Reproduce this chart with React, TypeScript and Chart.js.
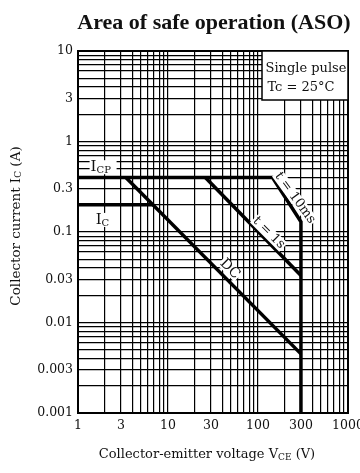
import React, { useEffect, useRef } from "react";
import { Chart, registerables } from "chart.js";

Chart.register(...registerables);

// ---- data ----
const xTickLabels = [1, 3, 10, 30, 100, 300, 1000];
const yTickLabels = [0.001, 0.003, 0.01, 0.03, 0.1, 0.3, 1, 3, 10];
const gridMantissas = [1, 2, 3, 4, 5, 6, 7, 8, 9];

// ICP limit + t = 10ms line + 300 V voltage limit
const pulseLimitV = [1, 145, 300, 300];
const pulseLimitI = [0.4, 0.4, 0.13, 0.001];
// IC (continuous) limit
const icLimitV = [1, 6.8];
const icLimitI = [0.2, 0.2];
// DC
const dcV = [3.4, 300];
const dcI = [0.4, 0.0045];
// t = 1 s
const t1sV = [26, 300];
const t1sI = [0.4, 0.033];

function logGrid(min: number, max: number): number[] {
  const out: number[] = [];
  const e0 = Math.round(Math.log10(min));
  const e1 = Math.round(Math.log10(max));
  for (let e = e0; e < e1; e++) {
    for (const m of gridMantissas) out.push(parseFloat((m * Math.pow(10, e)).toPrecision(6)));
  }
  out.push(max);
  return out;
}

const xGrid = logGrid(1, 1000);
const yGrid = logGrid(0.001, 10);

function pts(xs: number[], ys: number[]) {
  return xs.map((x, i) => ({ x, y: ys[i] }));
}

function labelFor(list: number[], v: number): string {
  const hit = list.find((t) => Math.abs(t - v) / t < 1e-6);
  return hit === undefined ? "" : String(hit);
}

const SERIF = "'DejaVu Serif', 'Liberation Serif', serif";

type Seg = { t: string; sub?: boolean };

function drawRich(
  ctx: CanvasRenderingContext2D,
  segs: Seg[],
  x: number,
  y: number,
  size: number,
  align: "left" | "center",
  family: string
) {
  const subSize = Math.round(size * 0.68);
  let total = 0;
  const widths = segs.map((s) => {
    ctx.font = `${s.sub ? subSize : size}px ${family}`;
    const w = ctx.measureText(s.t).width;
    total += w;
    return w;
  });
  let cx = align === "center" ? x - total / 2 : x;
  ctx.textAlign = "left";
  ctx.textBaseline = "middle";
  segs.forEach((s, i) => {
    ctx.font = `${s.sub ? subSize : size}px ${family}`;
    ctx.fillText(s.t, cx, s.sub ? y + size * 0.22 : y);
    cx += widths[i];
  });
  return total;
}

const annotations = {
  id: "asoAnnotations",
  afterDatasetsDraw(chart: any) {
    const ctx: CanvasRenderingContext2D = chart.ctx;
    const { left, right, top, bottom } = chart.chartArea;
    const xs = chart.scales.x;
    const ys = chart.scales.y;
    ctx.save();

    // frame
    ctx.strokeStyle = "#000";
    ctx.lineWidth = 2;
    ctx.strokeRect(left, top, right - left, bottom - top);

    // inset box
    const bx = 262;
    const by = top;
    ctx.fillStyle = "#fff";
    ctx.fillRect(bx, by, right - bx, 100 - by);
    ctx.lineWidth = 1.5;
    ctx.strokeRect(bx, by, right - bx, 100 - by);
    ctx.fillStyle = "#111";
    ctx.font = `13px ${SERIF}`;
    ctx.textAlign = "center";
    ctx.textBaseline = "middle";
    ctx.fillText("Single pulse", (bx + right) / 2 + 1, 69);
    ctx.fillText("Tc = 25°C", (bx + right) / 2 - 4, 88);

    // ICP / IC labels (white backing)
    const icpX = xs.getPixelForValue(1.38);
    const icpY = ys.getPixelForValue(0.52);
    ctx.fillStyle = "#fff";
    ctx.fillRect(icpX - 1, icpY - 7, 27, 14);
    ctx.fillStyle = "#111";
    drawRich(ctx, [{ t: "I" }, { t: "CP", sub: true }], icpX, icpY, 15, "left", SERIF);

    const icX = xs.getPixelForValue(1.57);
    const icY = ys.getPixelForValue(0.136);
    ctx.fillStyle = "#fff";
    ctx.fillRect(icX - 1, icY - 7, 15, 14);
    ctx.fillStyle = "#111";
    drawRich(ctx, [{ t: "I" }, { t: "C", sub: true }], icX, icY, 15, "left", SERIF);

    // rotated curve labels
    const rotLabel = (text: string, v: number, i: number, deg: number, size: number) => {
      const px = xs.getPixelForValue(v);
      const py = ys.getPixelForValue(i);
      ctx.save();
      ctx.translate(px, py);
      ctx.rotate((deg * Math.PI) / 180);
      ctx.font = `${size}px ${SERIF}`;
      const w = ctx.measureText(text).width;
      ctx.fillStyle = "#fff";
      ctx.fillRect(-w / 2 - 1, -6, w + 2, 12);
      ctx.fillStyle = "#111";
      ctx.textAlign = "center";
      ctx.textBaseline = "middle";
      ctx.fillText(text, 0, 0);
      ctx.restore();
    };
    rotLabel("DC", 48.7, 0.039, 45, 14);
    rotLabel("t = 1s", 132, 0.098, 45, 13);
    rotLabel("t = 10ms", 258, 0.238, 54, 13);

    // title
    ctx.fillStyle = "#111";
    ctx.font = `bold 22px 'Liberation Serif', serif`;
    ctx.textAlign = "center";
    ctx.textBaseline = "alphabetic";
    ctx.fillText("Area of safe operation (ASO)", 214, 29);

    // x axis title
    drawRich(
      ctx,
      [{ t: "Collector-emitter voltage V" }, { t: "CE", sub: true }, { t: " (V)" }],
      207,
      455,
      13,
      "center",
      SERIF
    );

    // y axis title
    ctx.save();
    ctx.translate(16, 226);
    ctx.rotate(-Math.PI / 2);
    drawRich(
      ctx,
      [{ t: "Collector current I" }, { t: "C", sub: true }, { t: " (A)" }],
      0,
      0,
      13.5,
      "center",
      SERIF
    );
    ctx.restore();

    ctx.restore();
  },
};

export default function App() {
  const ref = useRef<HTMLCanvasElement | null>(null);

  useEffect(() => {
    if (!ref.current) return;
    const line = (data: { x: number; y: number }[]) => ({
      data,
      showLine: true,
      borderColor: "#000",
      borderWidth: 3.5,
      pointRadius: 0,
      fill: false,
      tension: 0,
    });
    const chart = new Chart(ref.current, {
      type: "scatter",
      data: {
        datasets: [
          line(pts(pulseLimitV, pulseLimitI)),
          line(pts(icLimitV, icLimitI)),
          line(pts(dcV, dcI)),
          line(pts(t1sV, t1sI)),
        ],
      },
      options: {
        responsive: false,
        animation: false,
        devicePixelRatio: 1,
        layout: { padding: { left: 0, right: 12, top: 51, bottom: 0 } },
        plugins: { legend: { display: false }, tooltip: { enabled: false }, title: { display: false } },
        scales: {
          x: {
            type: "logarithmic",
            min: 1,
            max: 1000,
            afterBuildTicks: (s: any) => {
              s.ticks = xGrid.map((v) => ({ value: v }));
            },
            afterFit: (s: any) => {
              s.height = 60;
              s.paddingLeft = 0;
              s.paddingRight = 0;
            },
            grid: { color: "#000", lineWidth: 1.2, drawTicks: false },
            border: { display: false },
            ticks: {
              autoSkip: false,
              maxRotation: 0,
              padding: 5,
              color: "#111",
              font: { family: SERIF, size: 12.5 },
              callback: (v: any) => labelFor(xTickLabels, Number(v)),
            },
          },
          y: {
            type: "logarithmic",
            min: 0.001,
            max: 10,
            afterBuildTicks: (s: any) => {
              s.ticks = yGrid.map((v) => ({ value: v }));
            },
            afterFit: (s: any) => {
              s.width = 78;
              s.paddingTop = 0;
              s.paddingBottom = 0;
            },
            grid: { color: "#000", lineWidth: 1.2, drawTicks: false },
            border: { display: false },
            ticks: {
              autoSkip: false,
              padding: 5,
              color: "#111",
              font: { family: SERIF, size: 12.5 },
              callback: (v: any) => labelFor(yTickLabels, Number(v)),
            },
          },
        },
      },
      plugins: [annotations],
    } as any);
    return () => chart.destroy();
  }, []);

  return (
    <div style={{ position: "absolute", left: 0, top: 0, width: 360, height: 473, background: "#fff" }}>
      <canvas ref={ref} width={360} height={473} />
    </div>
  );
}
